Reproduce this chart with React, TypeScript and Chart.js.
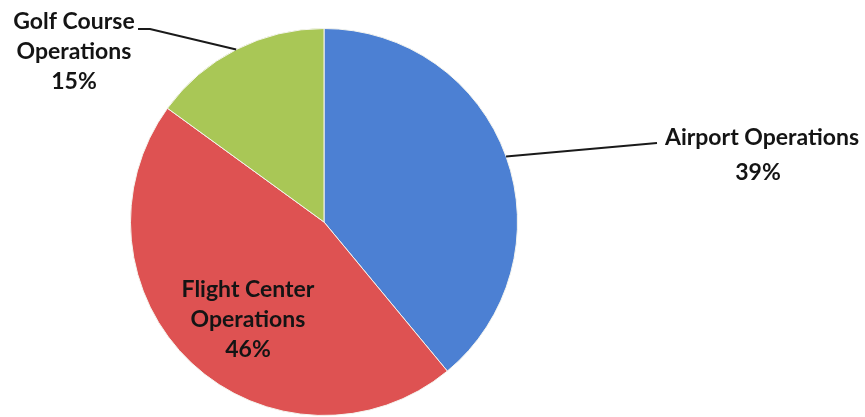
import React, { useEffect, useRef } from "react";
import { Chart, registerables } from "chart.js";

Chart.register(...registerables);

const categories = ["Airport Operations", "Flight Center Operations", "Golf Course Operations"];
const values = [39, 46, 15];
const colors = ["#4C80D3", "#DE5252", "#A9C756"];

// label text lines per slice
const labelLines = [
  ["Airport Operations", "39%"],
  ["Flight Center", "Operations", "46%"],
  ["Golf Course", "Operations", "15%"],
];

const labelPlugin = {
  id: "sliceLabels",
  afterDatasetsDraw(chart: any) {
    const ctx = chart.ctx as CanvasRenderingContext2D;
    const meta = chart.getDatasetMeta(0);
    const font = "bold 23px Lato, 'Liberation Sans', sans-serif";
    ctx.save();
    ctx.font = font;
    ctx.fillStyle = "#141414";
    ctx.strokeStyle = "#1a1a1a";
    ctx.lineWidth = 2;
    ctx.textAlign = "center";
    ctx.textBaseline = "middle";
    meta.data.forEach((arc: any, i: number) => {
      const { x, y, startAngle, endAngle, outerRadius } = arc.getProps(
        ["x", "y", "startAngle", "endAngle", "outerRadius"],
        true
      );
      const mid = (startAngle + endAngle) / 2;
      const sx = x + Math.cos(mid) * outerRadius;
      const sy = y + Math.sin(mid) * outerRadius;
      const lines = labelLines[i];
      if (i === 0) {
        ctx.beginPath();
        ctx.moveTo(sx, sy);
        ctx.lineTo(x + 333, y - 79);
        ctx.stroke();
        ctx.fillText(lines[0], x + 438, y - 84);
        ctx.fillText(lines[1], x + 434, y - 49);
      } else if (i === 1) {
        lines.forEach((t, k) => ctx.fillText(t, x - 76, y + 68 + k * 30));
      } else {
        ctx.beginPath();
        ctx.moveTo(sx, sy);
        ctx.lineTo(x - 174, y - 193);
        ctx.lineTo(x - 186, y - 193);
        ctx.stroke();
        lines.forEach((t, k) => ctx.fillText(t, x - 250, y - 200 + k * 30));
      }
    });
    ctx.restore();
  },
};

export default function App() {
  const ref = useRef<HTMLCanvasElement | null>(null);
  useEffect(() => {
    if (!ref.current) return;
    const chart = new Chart(ref.current, {
      type: "pie",
      data: {
        labels: categories,
        datasets: [
          {
            data: values,
            backgroundColor: colors,
            borderColor: "#f4f4ee",
            borderWidth: 1,
          },
        ],
      },
      options: {
        responsive: false,
        animation: false,
        layout: { padding: { left: 130, right: 347, top: 28, bottom: 1 } },
        plugins: {
          legend: { display: false },
          tooltip: { enabled: false },
        },
      },
      plugins: [labelPlugin],
    });
    return () => chart.destroy();
  }, []);
  return (
    <div style={{ position: "fixed", left: 0, top: 0, width: 865, height: 417, background: "#fff" }}>
      <canvas ref={ref} width={865} height={417} style={{ width: 865, height: 417, display: "block" }} />
    </div>
  );
}
